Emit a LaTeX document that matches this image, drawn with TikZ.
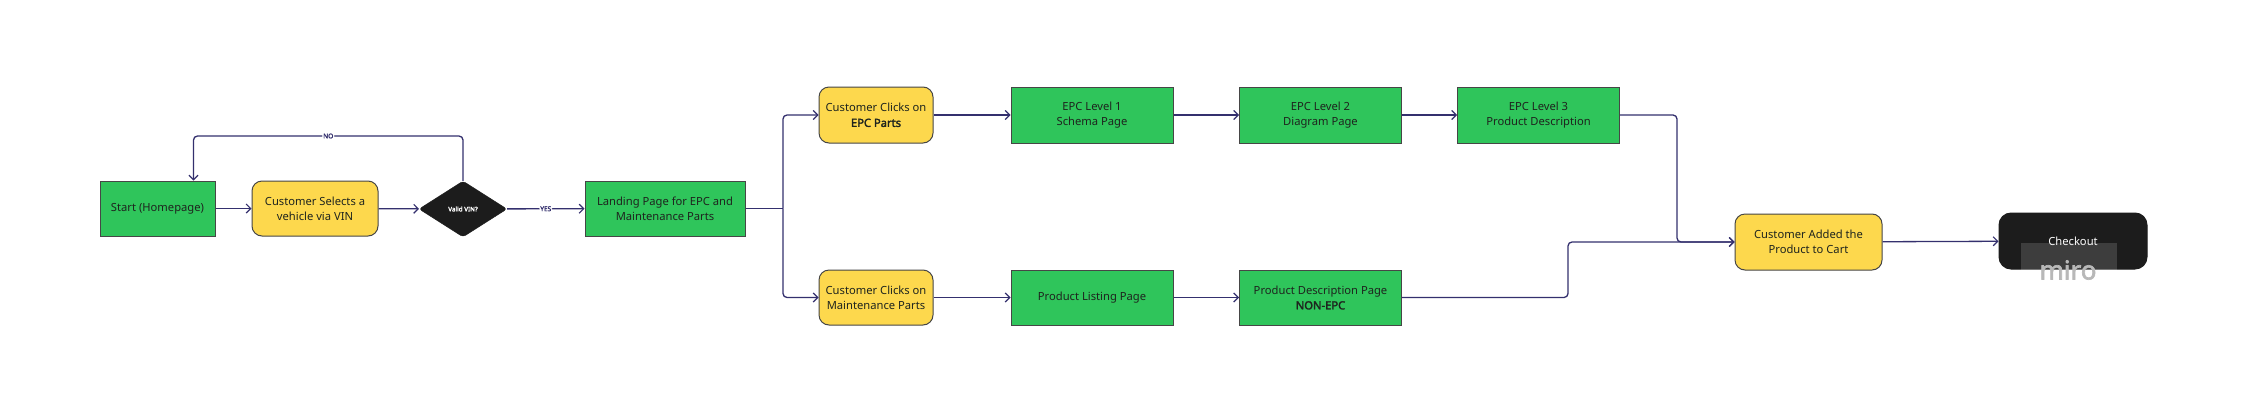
\documentclass[tikz,border=0pt]{standalone}
\usepackage{fontspec}
\setmainfont{Noto Sans}[AutoFakeBold=2.5]
\usetikzlibrary{arrows.meta,shapes.geometric}
\definecolor{boxgreen}{RGB}{47,197,91}
\definecolor{boxyellow}{RGB}{253,216,77}
\definecolor{linecol}{RGB}{52,48,110}
\definecolor{bordcol}{RGB}{70,70,70}
\definecolor{darkbox}{RGB}{28,28,28}
\definecolor{txtcol}{RGB}{30,36,30}
\tikzset{
  base/.style={draw=bordcol, line width=1pt, align=center, inner sep=2pt,
    text=txtcol, font=\fontsize{11.2}{15.3}\selectfont},
  greenbox/.style={base, fill=boxgreen, minimum width=162pt, minimum height=56pt},
  yellowbox/.style={base, fill=boxyellow, rounded corners=10pt, minimum width=114pt, minimum height=56pt},
  decision/.style={diamond, fill=darkbox, draw=darkbox, rounded corners=3pt, inner sep=0pt,
    minimum width=88pt, minimum height=56pt, text=white, font=\fontsize{6.3}{8}\selectfont\bfseries},
  endbox/.style={base, fill=darkbox, draw=darkbox, text=white, rounded corners=12pt,
    minimum width=148pt, minimum height=56pt},
  conn/.style={draw=linecol, line width=1.3pt, rounded corners=4pt,
    -{Straight Barb[length=4.5pt,width=9pt,line width=1.2pt]}},
  plainconn/.style={draw=linecol, line width=1.3pt, rounded corners=4pt},
  lbl/.style={fill=white, inner sep=1pt, text=linecol, font=\fontsize{6.5}{7}\selectfont\bfseries}
}
\begin{document}
\begin{tikzpicture}[x=1pt,y=-1pt]
\useasboundingbox[fill=white] (0,0) rectangle (2248,413);

% nodes
\node[greenbox, minimum width=115pt, minimum height=55pt] (start) at (157.5,208.5) {Start (Homepage)};
\node[yellowbox, minimum width=126pt, minimum height=55pt] (sel) at (315,208.5) {Customer Selects a\\vehicle via VIN};
\node[decision] (dia) at (463,209) {Valid VIN?};
\node[greenbox, minimum width=160pt, minimum height=55pt] (land) at (665,208.5) {Landing Page for EPC and\\Maintenance Parts};

\node[yellowbox] (epc) at (876,115) {Customer Clicks on\\\textbf{EPC Parts}};
\node[greenbox] (l1) at (1092,115) {EPC Level 1\\Schema Page};
\node[greenbox] (l2) at (1320.5,115) {EPC Level 2\\Diagram Page};
\node[greenbox] (l3) at (1538.5,115) {EPC Level 3\\Product Description};

\node[yellowbox, minimum height=55pt] (maint) at (876,297.5) {Customer Clicks on\\Maintenance Parts};
\node[greenbox, minimum height=55pt] (list) at (1092,297.5) {Product Listing Page};
\node[greenbox, minimum height=55pt] (nonepc) at (1320.5,297.5) {Product Description Page\\\textbf{NON-EPC}};

\node[yellowbox, minimum width=147pt] (cart) at (1808.5,242) {Customer Added the\\Product to Cart};
\node[endbox] (checkout) at (2073,241) {Checkout};

% watermark
\node[fill=white, fill opacity=0.15, minimum width=96pt, minimum height=41pt, inner sep=0pt] (wm) at (2069,263.5) {};
\node[text=black!28, font=\fontsize{26}{26}\selectfont\bfseries, inner sep=0pt] (wmtext) at (2068,270) {miro};

% junction coordinates
\coordinate (b1) at (783,208.5);
\coordinate (no1) at (463,136);
\coordinate (no2) at (193.5,136);
\coordinate (j1) at (1677,242);
\coordinate (j2) at (1568,242);

% connectors
\draw[conn] (start) -- (sel);
\draw[conn] (sel) -- (dia);
\draw[conn] (dia) -- node[lbl] {YES} (land);
\draw[conn] (dia.north) -- (no1) -- node[lbl] {NO} (no2) -- (no2 |- start.north);

\draw[plainconn] (land.east) -- (b1);
\draw[conn] (b1) |- (epc.west);
\draw[conn] (b1) |- (maint.west);

\draw[conn] (epc) -- (l1);
\draw[conn] (l1) -- (l2);
\draw[conn] (l2) -- (l3);
\draw[conn] (maint) -- (list);
\draw[conn] (list) -- (nonepc);

\draw[conn] (l3.east) -| (j1) -- (cart.west);
\draw[conn] (nonepc.east) -| (j2) -- (cart.west);
\draw[conn] (cart) -- (checkout);
\end{tikzpicture}
\end{document}
